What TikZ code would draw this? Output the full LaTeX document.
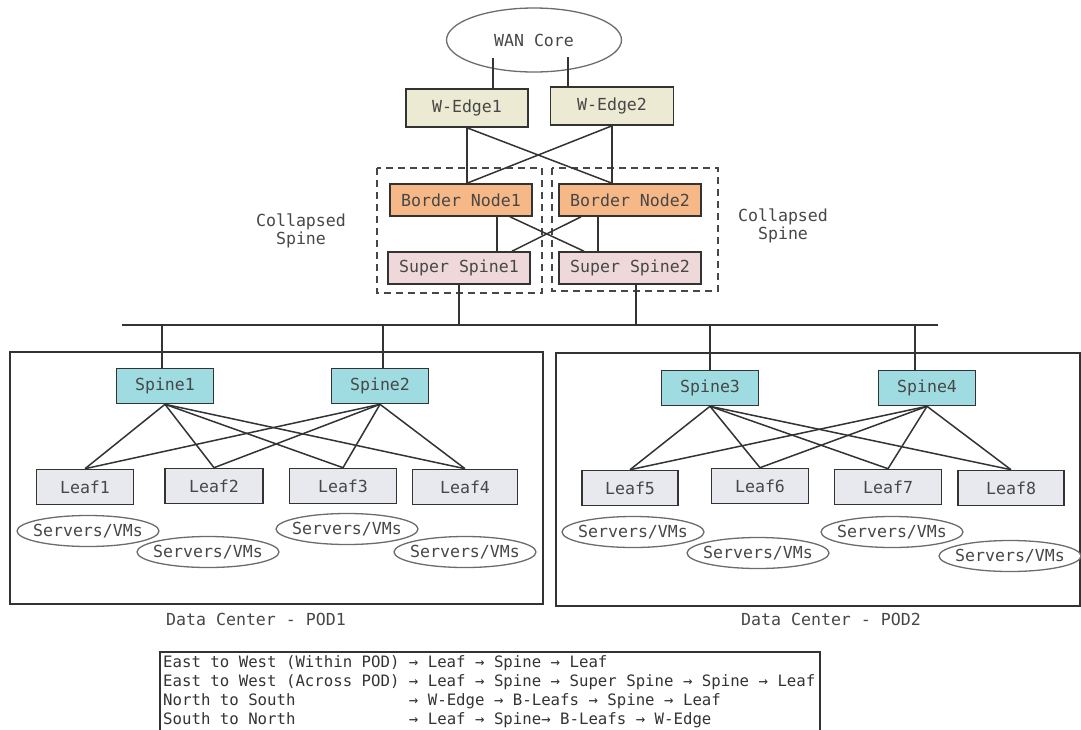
\documentclass[tikz,border=0pt]{standalone}
\usepackage{fontspec}
\setmainfont{DejaVu Sans Mono}
\usetikzlibrary{positioning,shapes.geometric}

\definecolor{ink}{HTML}{333333}
\definecolor{txt}{HTML}{474747}
\definecolor{edgefill}{HTML}{ECEAD3}
\definecolor{borderfill}{HTML}{F7B888}
\definecolor{superfill}{HTML}{EFD8DA}
\definecolor{spinefill}{HTML}{9FDCE1}
\definecolor{leaffill}{HTML}{E8E9EE}

\begin{document}
\begin{tikzpicture}[x=1pt,y=-1pt,
  box/.style={draw=ink,line width=1.6pt,minimum height=35pt,inner sep=0pt,
    text=txt,font=\fontsize{16.6}{20}\selectfont},
  vmoval/.style={ellipse,draw=gray!85!black,line width=1.3pt,fill=white,inner sep=0pt,
    minimum width=142pt,minimum height=31pt,text=txt,font=\fontsize{16.6}{20}\selectfont},
  note/.style={align=center,text=txt,font=\fontsize{16.6}{18.5}\selectfont},
  link/.style={draw=ink,line width=1.5pt},
  collapse/.style={draw=ink!90,line width=1.5pt,dash pattern=on 7pt off 5pt}]
\useasboundingbox (0,0) rectangle (1081,729);

% WAN side
\node[ellipse,draw=gray!85!black,line width=1.3pt,minimum width=175pt,minimum height=64pt,
  inner sep=0pt,text=txt,font=\fontsize{16.6}{20}\selectfont] (wan) at (534,40) {WAN Core};
\node[box,fill=edgefill,minimum width=122pt,minimum height=38pt] (we1) at (467,108) {W-Edge1};
\node[box,fill=edgefill,minimum width=123pt,minimum height=38pt] (we2) at (612,106) {W-Edge2};
\draw[link] ([xshift=26pt]we1.north) -- ++(0,-30);
\draw[link] ([xshift=-44pt]we2.north) -- ++(0,-29);

% collapsed spines
\draw[collapse] (377,168) rectangle (542,293);
\draw[collapse] (552,168) rectangle (718,291);
\node[note] (cs1) at (301,231) {Collapsed\\Spine};
\node[note] (cs2) at (783,226) {Collapsed\\Spine};

\node[box,fill=borderfill,minimum width=142pt,minimum height=32pt] (bn1) at (461,200) {Border Node1};
\node[box,fill=borderfill,minimum width=142pt,minimum height=32pt] (bn2) at (630,200) {Border Node2};
\node[box,fill=superfill,minimum width=142pt,minimum height=32pt] (ss1) at (459,268) {Super Spine1};
\node[box,fill=superfill,minimum width=142pt,minimum height=32pt] (ss2) at (630,268) {Super Spine2};

\draw[link] (we1.south) -- (we1.south |- bn1.north);
\draw[link] (we2.south) -- (we2.south |- bn2.north);
\draw[link] (we1.south) -- (we2.south |- bn2.north);
\draw[link] (we2.south) -- (we1.south |- bn1.north);

\draw[link] ([xshift=36pt]bn1.south) -- ([xshift=36pt]bn1.south |- ss1.north);
\draw[link] ([xshift=-32pt]bn2.south) -- ([xshift=-32pt]bn2.south |- ss2.north);
\draw[link] ([xshift=49pt]bn1.south) -- ([xshift=-46pt]ss2.north);
\draw[link] ([xshift=-49pt]bn2.south) -- ([xshift=53pt]ss1.north);

% bus
\coordinate (busL) at (122,325);
\coordinate (busR) at (938,325);
\draw[ink,line width=2pt] (busL) -- (busR);
\draw[link,line width=1.8pt] (ss1.south) -- (ss1.south |- busL);
\draw[link,line width=1.8pt] ([xshift=6pt]ss2.south) -- ([xshift=6pt]ss2.south |- busL);

% pods
\draw[ink,line width=2pt] (10,352) rectangle (543,604);
\draw[ink,line width=2pt] (556,353) rectangle (1080,606);
\node[note] (pod1) at (256,619) {Data Center - POD1};
\node[note] (pod2) at (831,619) {Data Center - POD2};

\foreach \n/\x/\y in {1/165/386, 2/380/386, 3/710/388, 4/927/388}
  \node[box,fill=spinefill,minimum width=97pt] (spine\n) at (\x,\y) {Spine\n};
\foreach \n/\x/\y/\w in {1/85/487/97, 2/214/486/98, 3/343/486/107, 4/465/487/105,
    5/630/488/96, 6/760/486/97, 7/888/487/107, 8/1011/488/106}
  \node[box,fill=leaffill,minimum width=\w pt] (leaf\n) at (\x,\y) {Leaf\n};
\foreach \n/\x/\y in {1/88/531, 2/208/552, 3/347/529, 4/465/552,
    5/633/532, 6/758/553, 7/892/532, 8/1010/556}
  \node[vmoval] (vm\n) at (\x,\y) {\makebox[0pt]{Servers/VMs}};

\foreach \s in {1,2} \foreach \l in {1,...,4}
  \draw[link] (spine\s.south) -- (leaf\l.north);
\foreach \s in {3,4} \foreach \l in {5,...,8}
  \draw[link] (spine\s.south) -- (leaf\l.north);

\draw[link,line width=1.8pt] ([xshift=-3pt]spine1.north) -- ([xshift=-3pt]spine1.north |- busL);
\draw[link,line width=1.8pt] ([xshift=3pt]spine2.north) -- ([xshift=3pt]spine2.north |- busL);
\draw[link,line width=1.8pt] (spine3.north) -- (spine3.north |- busL);
\draw[link,line width=1.8pt] ([xshift=-12pt]spine4.north) -- ([xshift=-12pt]spine4.north |- busL);

% legend
\draw[ink,line width=1.4pt] (160,740) |- (820,652) -- (820,740);
\node[anchor=north west,inner sep=0pt,text=ink,font=\fontsize{15.7}{19}\selectfont] (legend) at (163,654)
  {\begin{tabular}{@{}l@{\ }l@{}}
  East to West (Within POD) & → Leaf → Spine → Leaf\\
  East to West (Across POD) & → Leaf → Spine → Super Spine → Spine → Leaf\\
  North to South & → W-Edge → B-Leafs → Spine → Leaf\\
  South to North & → Leaf → Spine→ B-Leafs → W-Edge
  \end{tabular}};
\end{tikzpicture}
\end{document}
